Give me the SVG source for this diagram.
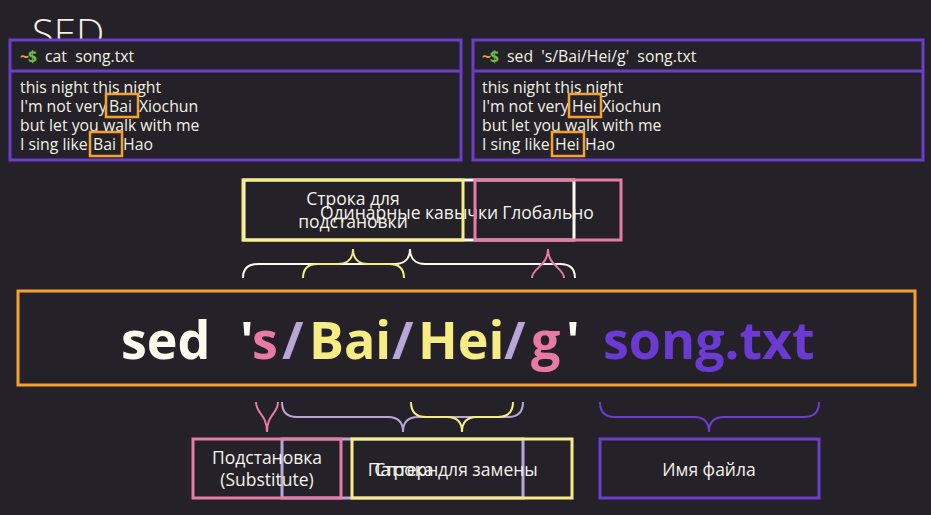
<svg xmlns="http://www.w3.org/2000/svg" width="931" height="515" viewBox="0 0 931 515">
<style>
.term{fill:#242228;stroke:#6b3dc9;stroke-width:3}
.tt{font-family:"Open Sans","Noto Sans",sans-serif;font-size:15.8px;fill:#f3f0e4;white-space:pre}
.til{fill:#e8a33c;font-weight:bold}
.dol{fill:#6dbb4a;font-weight:bold}
.hl{fill:none;stroke:#f5a030;stroke-width:2.5}
.lbl{font-family:"Open Sans","Noto Sans",sans-serif;font-size:17.5px;fill:#f5f3ea;text-anchor:middle}
.box{fill:none;stroke-width:3}
.big{font-family:"Open Sans","Noto Sans",sans-serif;font-size:52px;font-weight:bold}
.br{fill:none;stroke-width:2}
</style>
<rect width="931" height="515" fill="#242228"/>
<g id="title"><text x="32" y="48" font-family="'Open Sans',sans-serif" font-weight="300" font-size="40" fill="#f3f0e4">SED</text></g>
<g id="term-left">
<rect class="term" x="10" y="40" width="451" height="120"/>
<line x1="10" y1="71" x2="461" y2="71" stroke="#6b3dc9" stroke-width="3"/>
<text class="tt" y="62" xml:space="preserve"><tspan class="til" x="20">~</tspan><tspan class="dol" x="28">$</tspan><tspan x="45">cat  song.txt</tspan></text>
<text class="tt" x="20" y="93">this night this night</text>
<text class="tt" y="112"><tspan x="20">I'm not very</tspan><tspan x="109">Bai</tspan><tspan x="139">Xiochun</tspan></text>
<text class="tt" x="20" y="131">but let you walk with me</text>
<text class="tt" y="150"><tspan x="20">I sing like</tspan><tspan x="93">Bai</tspan><tspan x="123">Hao</tspan></text>
<rect class="hl" x="106" y="94" width="32" height="23"/>
<rect class="hl" x="90" y="132" width="32" height="24"/>
</g>
<g id="term-right">
<rect class="term" x="473" y="40" width="450" height="120"/>
<line x1="473" y1="71" x2="923" y2="71" stroke="#6b3dc9" stroke-width="3"/>
<text class="tt" y="62" xml:space="preserve"><tspan class="til" x="482">~</tspan><tspan class="dol" x="490">$</tspan><tspan x="507">sed  's/Bai/Hei/g'  song.txt</tspan></text>
<text class="tt" x="482" y="93">this night this night</text>
<text class="tt" y="112"><tspan x="482">I'm not very</tspan><tspan x="572">Hei</tspan><tspan x="602">Xiochun</tspan></text>
<text class="tt" x="482" y="131">but let you walk with me</text>
<text class="tt" y="150"><tspan x="482">I sing like</tspan><tspan x="555">Hei</tspan><tspan x="585">Hao</tspan></text>
<rect class="hl" x="569" y="94" width="32" height="23"/>
<rect class="hl" x="552" y="132" width="32" height="24"/>
</g>
<g id="label-quotes">
<rect class="box" x="244" y="180" width="330" height="60" stroke="#fdfbee"/>
<text class="lbl" x="409" y="219">Одинарные кавычки</text>
</g>
<g id="label-search">
<rect class="box" x="243" y="180" width="220" height="60" stroke="#f8ed84"/>
<text class="lbl" x="353" y="205">Строка для</text>
<text class="lbl" x="353" y="228">подстановки</text>
</g>
<g id="label-global">
<rect class="box" x="475" y="180" width="146" height="60" stroke="#e87ba6"/>
<text class="lbl" x="548" y="219">Глобально</text>
</g>
<g id="main-cmd">
<rect x="18" y="291" width="897" height="94" fill="none" stroke="#f5a030" stroke-width="3"/>
<text class="big" y="359"><tspan x="121" fill="#fdfbee">sed</tspan><tspan x="240" fill="#fdfbee">'</tspan><tspan x="252" fill="#e87ba6">s</tspan><tspan x="282" fill="#b9a6d9">/</tspan><tspan x="309" fill="#f8ed84">Bai</tspan><tspan x="392" fill="#b9a6d9">/</tspan><tspan x="418" fill="#f8ed84">Hei</tspan><tspan x="504" fill="#b9a6d9">/</tspan><tspan x="531" fill="#e87ba6">g</tspan><tspan x="566" fill="#fdfbee">'</tspan><tspan x="603" fill="#6b3ad2">song.txt</tspan></text>
</g>
<g id="label-pattern">
<rect class="box" x="282" y="439" width="241" height="59" stroke="#b9a6d9"/>
<text class="lbl" x="403" y="476">Паттерн</text>
</g>
<g id="label-subst">
<rect class="box" x="193" y="439" width="148" height="59" stroke="#e87ba6"/>
<text class="lbl" x="267" y="464">Подстановка</text>
<text class="lbl" x="267" y="486">(Substitute)</text>
</g>
<g id="label-replace">
<rect class="box" x="352" y="439" width="220" height="59" stroke="#f8ed84"/>
<text class="lbl" x="456" y="476">Строка для замены</text>
</g>
<g id="label-file">
<rect class="box" x="600" y="439" width="219" height="59" stroke="#6b3dc9"/>
<text class="lbl" x="709" y="476">Имя файла</text>
</g>
<g id="connectors">
<path class="br" stroke="#fdfbee" d="M243,278 C243,268 248,264 258,264 L395,264 C405,264 410,258 410,249 C410,258 415,264 425,264 L560,264 C570,264 575,268 575,278"/>
<path class="br" stroke="#f8ed84" d="M303,278 C303,268 308,264 318,264 L338,264 C348,264 353,258 353,249 C353,258 358,264 368,264 L389,264 C399,264 404,268 404,278"/>
<path class="br" stroke="#e87ba6" d="M532,278 C532,268 548,266 548,249 C548,266 564,268 564,278"/>
<path class="br" stroke="#e87ba6" d="M256,402 C256,414 267,414 267,432 C267,414 278,414 278,402"/>
<path class="br" stroke="#b9a6d9" d="M282,402 C282,412 287,417 297,417 L388,417 C398,417 403,422 403,432 C403,422 408,417 418,417 L508,417 C518,417 523,412 523,402"/>
<path class="br" stroke="#f8ed84" d="M411,402 C411,412 416,417 426,417 L447,417 C457,417 462,422 462,432 C462,422 467,417 477,417 L498,417 C508,417 513,412 513,402"/>
<path class="br" stroke="#6b3dc9" d="M600,402 C600,412 605,417 615,417 L694,417 C704,417 709,422 709,432 C709,422 714,417 724,417 L804,417 C814,417 819,412 819,402"/>
</g>
</svg>
